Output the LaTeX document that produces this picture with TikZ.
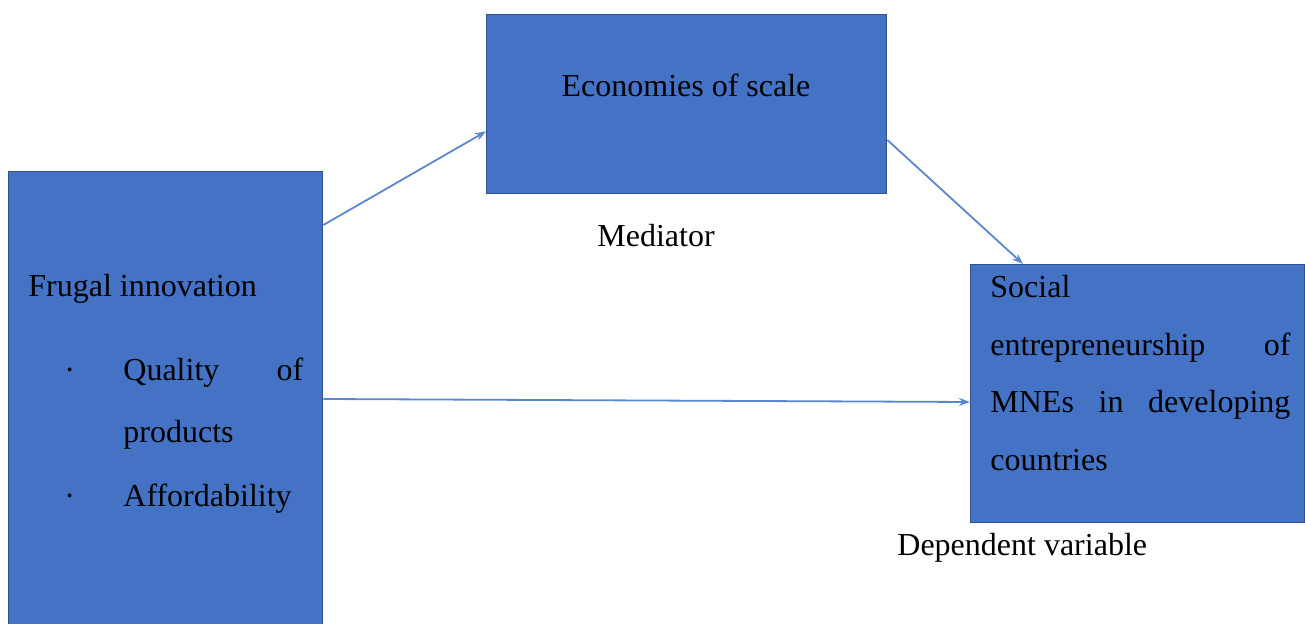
\documentclass[tikz,border=0pt]{standalone}
\usepackage{fontspec}
\setmainfont{Liberation Serif}
\usetikzlibrary{arrows.meta, calc}
\definecolor{boxfill}{HTML}{4472C4}
\definecolor{boxline}{HTML}{2F528F}
\definecolor{linkblue}{HTML}{5B86D0}
\tikzset{
  >={Stealth[length=5.5pt, width=4pt]},
  box/.style={draw=boxline, fill=boxfill, line width=0.7pt, anchor=north west, inner sep=0pt},
  lbl/.style={anchor=base west, inner sep=0pt, text=black},
  link/.style={->, draw=linkblue, line width=0.9pt},
}

\begin{document}
\begin{tikzpicture}[x=0.5pt, y=-0.5pt, font=\fontsize{16}{19}\selectfont]
    \useasboundingbox (0,0) rectangle (1305,624);
    \clip (0,0) rectangle (1305,624);

    % boxes
    \node[box, minimum width=157pt, minimum height=240pt] (fi) at (8,171) {};
    \node[box, minimum width=200pt, minimum height=89.5pt] (eos) at (486,14) {};
    \node[box, minimum width=167pt, minimum height=129pt] (sem) at (970,264) {};

    % text in the boxes
    \node[lbl, anchor=base] (eostxt) at (686,97) {Economies of scale};
    \node[lbl] (fitxt) at (28,297) {Frugal innovation};
    \node[lbl] (dot1) at (64,381) {\textperiodcentered};
    \node[lbl] (q1) at (123,381) {\hbox to 90pt{Quality\hfill of}};
    \node[lbl] (q2) at (123,443) {products};
    \node[lbl] (dot2) at (64,507) {\textperiodcentered};
    \node[lbl] (q3) at (123,507) {Affordability};
    \node[lbl] (s1) at (990,298) {Social};
    \node[lbl] (s2) at (990,356) {\hbox to 150pt{entrepreneurship\hfill of}};
    \node[lbl] (s3) at (990,413) {\hbox to 150pt{MNEs\hfill in\hfill developing}};
    \node[lbl] (s4) at (990,471) {countries};

    % captions
    \node[lbl, anchor=base] (med) at (656,247) {Mediator};
    \node[lbl] (dep) at (897,555) {Dependent variable};

    % links
    \draw[link] ($(fi.north east)+(0,54)$) -- ($(eos.south west)+(0,-63)$);
    \draw[link] ($(eos.north east)+(0,126)$) -- ($(sem.north west)+(53,0)$);
    \draw[link] ($(fi.north east)+(0,228)$) -- ($(sem.north west)+(0,138)$);
\end{tikzpicture}
\end{document}
